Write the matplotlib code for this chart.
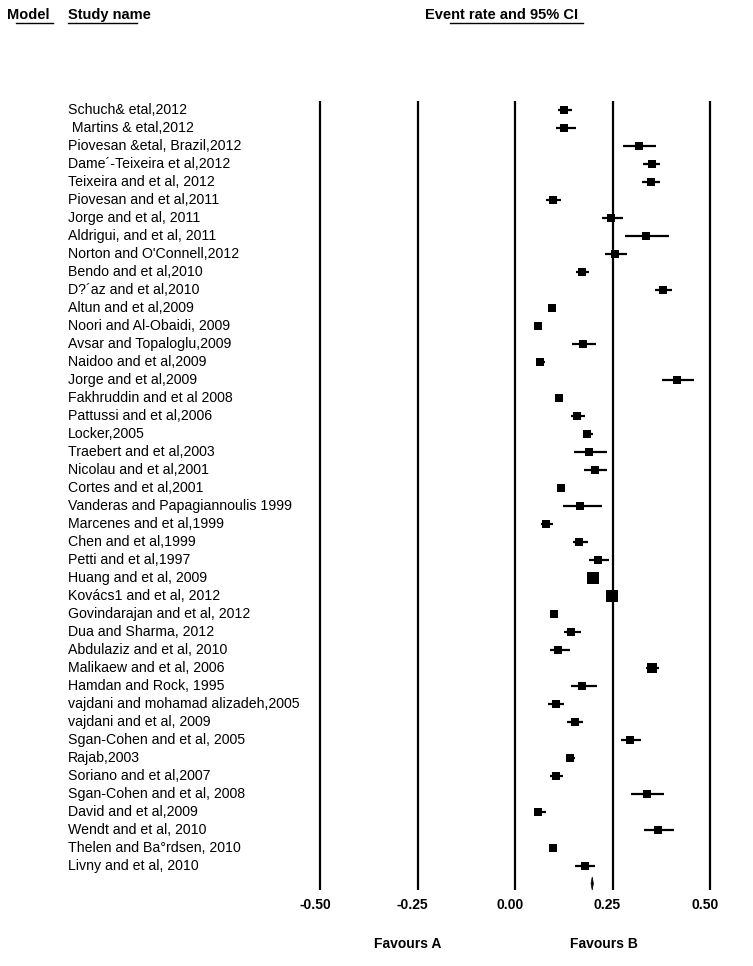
import matplotlib.pyplot as plt
from matplotlib.transforms import blended_transform_factory

# Study names, event rates and 95% CI
studies = [
    "Schuch& etal,2012", " Martins & etal,2012", "Piovesan &etal, Brazil,2012",
    "Dame\u00b4-Teixeira et al,2012", "Teixeira and et al, 2012", "Piovesan and et al,2011",
    "Jorge and et al, 2011", "Aldrigui, and et al, 2011", "Norton and O'Connell,2012",
    "Bendo and et al,2010", "D?\u00b4az and et al,2010", "Altun and et al,2009",
    "Noori and Al-Obaidi, 2009", "Avsar and Topaloglu,2009", "Naidoo and et al,2009",
    "Jorge and et al,2009", "Fakhruddin and et al 2008", "Pattussi and et al,2006",
    "Locker,2005", "Traebert and et al,2003", "Nicolau and et al,2001",
    "Cortes and et al,2001", "Vanderas and Papagiannoulis 1999", "Marcenes and et al,1999",
    "Chen and et al,1999", "Petti and et al,1997", "Huang and et al, 2009",
    "Kov\u00e1cs1 and et al, 2012", "Govindarajan and et al, 2012", "Dua and Sharma, 2012",
    "Abdulaziz and et al, 2010", "Malikaew and et al, 2006", "Hamdan and Rock, 1995",
    "vajdani and mohamad alizadeh,2005", "vajdani and et al, 2009", "Sgan-Cohen and et al, 2005",
    "Rajab,2003", "Soriano and et al,2007", "Sgan-Cohen and et al, 2008",
    "David and et al,2009", "Wendt and et al, 2010", "Thelen and Ba\u00b0rdsen, 2010",
    "Livny and et al, 2010",
]
rate = [0.126, 0.126, 0.319, 0.350, 0.349, 0.097, 0.247, 0.337, 0.257, 0.171,
        0.380, 0.094, 0.060, 0.175, 0.065, 0.416, 0.114, 0.160, 0.185, 0.191,
        0.205, 0.119, 0.167, 0.080, 0.165, 0.214, 0.200, 0.249, 0.101, 0.144,
        0.111, 0.350, 0.173, 0.104, 0.153, 0.296, 0.142, 0.104, 0.339, 0.060,
        0.367, 0.098, 0.179]
lower = [0.111, 0.105, 0.278, 0.329, 0.326, 0.079, 0.223, 0.282, 0.231, 0.157,
         0.359, 0.090, 0.057, 0.146, 0.057, 0.378, 0.108, 0.144, 0.175, 0.151,
         0.177, 0.112, 0.123, 0.067, 0.149, 0.190, 0.192, 0.242, 0.096, 0.126,
         0.090, 0.336, 0.144, 0.085, 0.133, 0.272, 0.131, 0.090, 0.297, 0.049,
         0.331, 0.093, 0.154]
upper = [0.146, 0.156, 0.361, 0.372, 0.372, 0.117, 0.276, 0.395, 0.287, 0.190,
         0.403, 0.098, 0.063, 0.208, 0.076, 0.459, 0.121, 0.179, 0.199, 0.236,
         0.236, 0.127, 0.223, 0.097, 0.187, 0.241, 0.208, 0.256, 0.106, 0.169,
         0.141, 0.369, 0.210, 0.125, 0.174, 0.323, 0.154, 0.123, 0.382, 0.079,
         0.408, 0.104, 0.205]
# relative weight -> square size
weight = [1.0] * len(studies)
weight[26] = 1.6   # Huang
weight[27] = 1.6   # Kovacs1
weight[31] = 1.3   # Malikaew

pooled, pooled_lo, pooled_hi = 0.198, 0.195, 0.201
ticks = [-0.50, -0.25, 0.00, 0.25, 0.50]
tick_labels = ["-0.50", "-0.25", "0.00", "0.25", "0.50"]

plt.rcParams['font.family'] = ['Liberation Sans', 'DejaVu Sans']

W, H = 753, 966
fig = plt.figure(figsize=(W / 100, H / 100), dpi=100)
ax = fig.add_axes([0, 0, 1, 1])
ax.axis('off')

# pixel mapping: 0 at x=515, 390 px per unit ; row 0 at y=110, 18 px per row
x0, sx = 515.0, 390.0
y0, sy = 110.0, 18.0
ax.set_xlim(-x0 / sx, (W - x0) / sx)
ax.set_ylim((H - y0) / sy, -y0 / sy)

def px(x):
    return x / W

tr = blended_transform_factory(ax.transAxes, ax.transData)

# vertical reference lines
ax.vlines(ticks, -0.5, (890 - y0) / sy, color='black', lw=1.6)

# studies
rows = list(range(len(studies)))
for i in rows:
    ax.plot([lower[i], upper[i]], [i, i], color='black', lw=1.6, solid_capstyle='butt')
    ax.plot(rate[i], i, marker='s', color='black', markersize=5.8 * weight[i],
            markeredgewidth=0)
    ax.text(px(68), i, studies[i], transform=tr, ha='left', va='center', fontsize=10.2)

# pooled diamond
yd = (883.5 - y0) / sy
hd = 6.5 / sy
ax.fill([pooled_lo, pooled, pooled_hi, pooled], [yd, yd - hd, yd, yd + hd],
        color='black', lw=0.5)

# tick labels
for t, lab in zip(ticks, tick_labels):
    ax.text(t - 5 / sx, (905 - y0) / sy, lab, ha='center', va='center',
            fontsize=10, fontweight='bold')

ax.text(px(408), (944 - y0) / sy, "Favours A", transform=tr, ha='center',
        va='center', fontsize=10, fontweight='bold')
ax.text(px(604), (944 - y0) / sy, "Favours B", transform=tr, ha='center',
        va='center', fontsize=10, fontweight='bold')

# headers with partial underlines
yh = (15 - y0) / sy
yu = (23 - y0) / sy
hdr = dict(transform=tr, ha='left', va='center', fontsize=10.5, fontweight='bold')
ax.text(px(7), yh, "Model", **hdr)
ax.text(px(68), yh, "Study name", **hdr)
ax.text(px(425), yh, "Event rate and 95% CI", **hdr)
for a, b in [(16, 53), (68, 137), (450, 583)]:
    ax.plot([px(a), px(b)], [yu, yu], transform=tr, color='black', lw=1.0)

fig.savefig("out.png", dpi=100, facecolor='white')
